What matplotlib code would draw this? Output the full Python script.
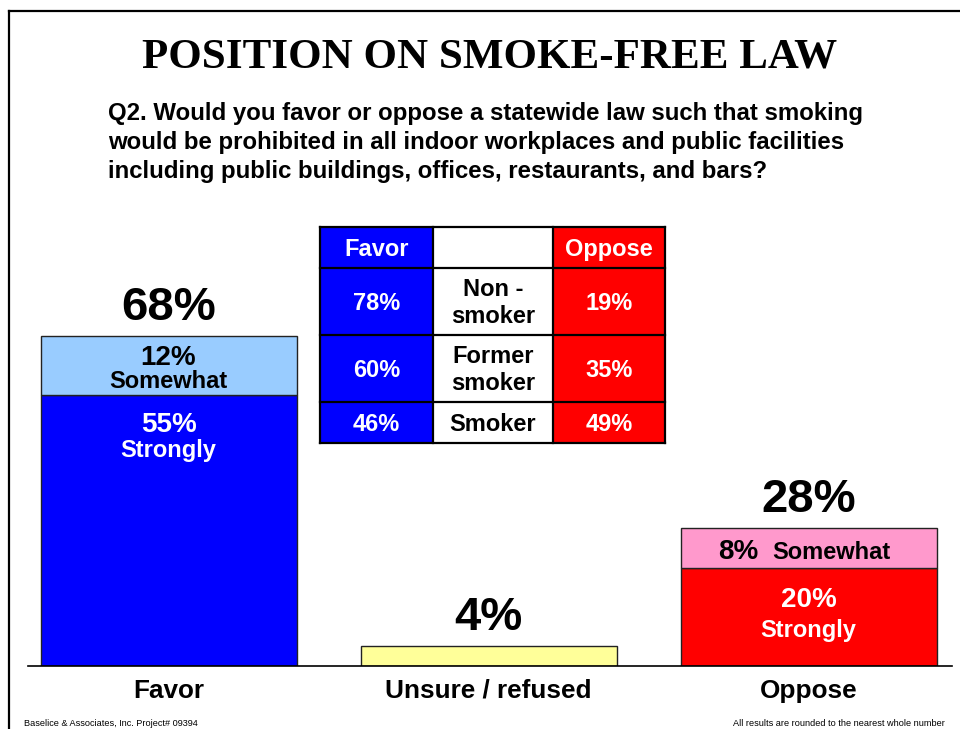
import matplotlib
matplotlib.use("Agg")
import matplotlib.pyplot as plt
from matplotlib.patches import Rectangle
from matplotlib.lines import Line2D

plt.rcParams['font.family'] = ['Liberation Sans', 'DejaVu Sans']

# ---- data ----
categories = ["Favor", "Unsure / refused", "Oppose"]
strongly = [55, 0, 20]          # "Strongly" share (Favor / Oppose)
somewhat = [12, 0, 8]           # "Somewhat" share (Favor / Oppose)
unsure = [0, 4, 0]              # Unsure / refused
total_labels = [68, 4, 28]      # reported totals (rounded)

table_groups = ["Non -\nsmoker", "Former\nsmoker", "Smoker"]
table_favor = [78, 60, 46]
table_oppose = [19, 35, 49]

title = "POSITION ON SMOKE-FREE LAW"
question = ["Q2. Would you favor or oppose a statewide law such that smoking",
            "would be prohibited in all indoor workplaces and public facilities",
            "including public buildings, offices, restaurants, and bars?"]
footer_left = "Baselice & Associates, Inc. Project# 09394"
footer_right = "All results are rounded to the nearest whole number"

# ---- colours ----
BLUE = "#0000FF"
LIGHT_BLUE = "#99CCFF"
YELLOW = "#FFFF99"
RED = "#FF0000"
PINK = "#FF99CC"

W, H = 960, 729
fig = plt.figure(figsize=(W / 100, H / 100), dpi=100)
fig.patch.set_facecolor("white")


def fx(px):
    return px / W


def fy(py):
    return 1 - py / H


# page frame (top and left rules)
fig.add_artist(Line2D([fx(9), fx(960)], [fy(11), fy(11)], color="black", lw=1.6))
fig.add_artist(Line2D([fx(9), fx(9)], [fy(11), fy(729)], color="black", lw=1.6))

# title and question
fig.text(fx(490), fy(67), title, ha="center", va="baseline",
         fontsize=31, fontweight="bold",
         family=["Liberation Serif", "DejaVu Serif"])
for i, line in enumerate(question):
    fig.text(fx(108), fy(120 + 29 * i), line, ha="left", va="baseline",
             fontsize=17.3, fontweight="bold")

# ---- bar chart ----
px_per_pct = 4.92
ax = fig.add_axes([fx(28), fy(666), (952 - 28) / W, 400 / H])
ax.set_xlim(-(168.5 - 28) / 320, (952 - 168.5) / 320)
ax.set_ylim(0, 400 / px_per_pct)
x = list(range(len(categories)))
bw = 0.8
edge = dict(edgecolor="#222222", linewidth=1.0)

ax.bar(x, strongly, bw, color=[BLUE, BLUE, RED], **edge)
ax.bar(x, somewhat, bw, bottom=strongly, color=[LIGHT_BLUE, LIGHT_BLUE, PINK], **edge)
ax.bar(x, unsure, bw, color=YELLOW, **edge)

for s in ["top", "left", "right"]:
    ax.spines[s].set_visible(False)
ax.spines["bottom"].set_linewidth(1.2)
ax.set_xticks([])
ax.set_yticks([])
ax.patch.set_alpha(0)


def pt(px):
    return px * 0.72


# totals above each bar
for i in x:
    top = strongly[i] + somewhat[i] + unsure[i]
    ax.annotate(f"{total_labels[i]}%", (i, top), xytext=(0, pt(16)),
                textcoords="offset points", ha="center", va="baseline",
                fontsize=34, fontweight="bold", annotation_clip=False)

# Favor segment labels
i = 0
ax.annotate(f"{strongly[i]}%", (i, strongly[i]), xytext=(0, -pt(37)),
            textcoords="offset points", ha="center", va="baseline",
            fontsize=20, fontweight="bold", color="white")
ax.annotate("Strongly", (i, strongly[i]), xytext=(0, -pt(62)),
            textcoords="offset points", ha="center", va="baseline",
            fontsize=17, fontweight="bold", color="white")
ftop = strongly[i] + somewhat[i]
ax.annotate(f"{somewhat[i]}%", (i, ftop), xytext=(0, -pt(29)),
            textcoords="offset points", ha="center", va="baseline",
            fontsize=20, fontweight="bold", color="black")
ax.annotate("Somewhat", (i, ftop), xytext=(0, -pt(52)),
            textcoords="offset points", ha="center", va="baseline",
            fontsize=17, fontweight="bold", color="black")

# Oppose segment labels
i = 2
ax.annotate(f"{strongly[i]}%", (i, strongly[i]), xytext=(0, -pt(39)),
            textcoords="offset points", ha="center", va="baseline",
            fontsize=20, fontweight="bold", color="white")
ax.annotate("Strongly", (i, strongly[i]), xytext=(0, -pt(69)),
            textcoords="offset points", ha="center", va="baseline",
            fontsize=17, fontweight="bold", color="white")
otop = strongly[i] + somewhat[i]
ax.annotate(f"{somewhat[i]}%", (i, otop), xytext=(-pt(70.5), -pt(31)),
            textcoords="offset points", ha="center", va="baseline",
            fontsize=20, fontweight="bold", color="black")
ax.annotate("Somewhat", (i, otop), xytext=(pt(22.5), -pt(31)),
            textcoords="offset points", ha="center", va="baseline",
            fontsize=17, fontweight="bold", color="black")

# category labels under the baseline
for i, c in enumerate(categories):
    ax.annotate(c, (i, 0), xytext=(0, -pt(32)), textcoords="offset points",
                ha="center", va="baseline", fontsize=18.8, fontweight="bold",
                annotation_clip=False)

# ---- smoker-status table ----
tx0, ty0, tx1, ty1 = 320, 227, 665, 443
tax = fig.add_axes([fx(tx0), fy(ty1), (tx1 - tx0) / W, (ty1 - ty0) / H])
tw, th = tx1 - tx0, ty1 - ty0
tax.set_xlim(0, tw)
tax.set_ylim(th, 0)
tax.axis("off")
col_edges = [0, 113, 233, tw]
row_edges = [0, 41, 108, 175, th]
col_colors = [BLUE, "white", RED]

header = ["Favor", "", "Oppose"]
rows = [header] + [[f"{f}%", g, f"{o}%"] for f, g, o in zip(table_favor, table_groups, table_oppose)]

for r, row in enumerate(rows):
    y0, y1 = row_edges[r], row_edges[r + 1]
    for c, txt in enumerate(row):
        x0, x1 = col_edges[c], col_edges[c + 1]
        tax.add_patch(Rectangle((x0, y0), x1 - x0, y1 - y0,
                                facecolor=col_colors[c], edgecolor="none"))
        if txt:
            tax.text((x0 + x1) / 2, (y0 + y1) / 2 + 1.5, txt, ha="center", va="center",
                     fontsize=17, fontweight="bold", linespacing=1.22,
                     color="black" if c == 1 else "white")

for xe in col_edges:
    tax.plot([xe, xe], [0, th], color="black", lw=1.6, solid_capstyle="projecting",
             clip_on=False)
for ye in row_edges:
    tax.plot([0, tw], [ye, ye], color="black", lw=1.6, solid_capstyle="projecting",
             clip_on=False)

# footers
fig.text(fx(24), fy(723), footer_left, ha="left", va="center", fontsize=6.6)
fig.text(fx(945), fy(723), footer_right, ha="right", va="center", fontsize=6.6)

fig.savefig("out.png", dpi=100, facecolor="white")
